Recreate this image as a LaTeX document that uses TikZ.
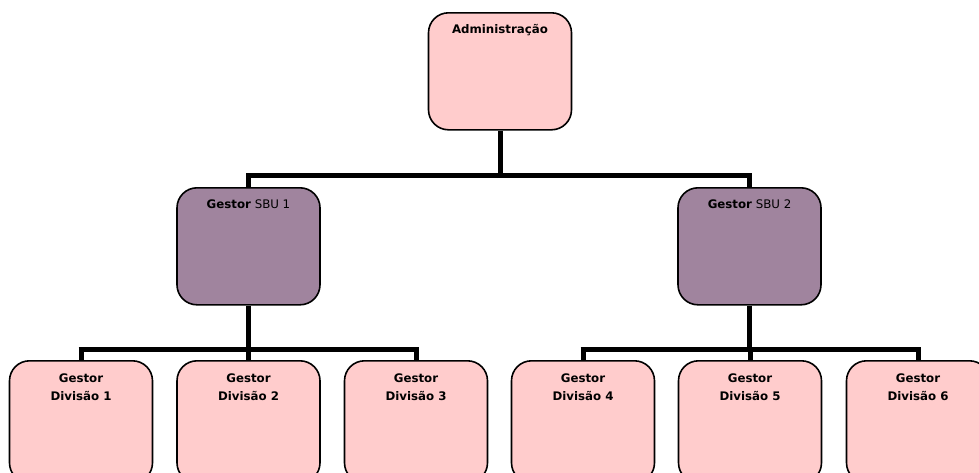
\documentclass[tikz,border=0pt]{standalone}
\usepackage{fontspec}
\setmainfont{DejaVu Sans}
\definecolor{boxpink}{RGB}{255,204,204}
\definecolor{boxpurple}{RGB}{160,132,158}
\begin{document}
\begin{tikzpicture}[x=1pt,y=-1pt,
  unit/.style={draw=black,line width=1.6pt,rounded corners=20pt,
    minimum width=143pt,minimum height=117pt,inner sep=0pt,anchor=north},
  pinkunit/.style={unit,fill=boxpink},
  purpleunit/.style={unit,fill=boxpurple},
  divunit/.style={pinkunit,minimum height=122pt},
  label/.style={font=\fontsize{11.8}{18}\selectfont,anchor=base,align=center,inner sep=0pt},
  link/.style={line width=5pt,line cap=butt}]
\useasboundingbox (0,0) rectangle (979,472);
\clip (0,0) rectangle (979,472);

% junction points of the connector tree
\coordinate (topbar) at (500,175.5);
\coordinate (leftbar) at (248.5,349.5);
\coordinate (rightbar) at (749.5,349.5);

% boxes
\node[pinkunit] (adm) at (500,12) {};
\node[purpleunit] (sbu1) at (248.5,187) {};
\node[purpleunit] (sbu2) at (749.5,187) {};
\node[divunit] (d1) at (81,360) {};
\node[divunit] (d2) at (248.5,360) {};
\node[divunit] (d3) at (416,360) {};
\node[divunit] (d4) at (583,360) {};
\node[divunit] (d5) at (750,360) {};
\node[divunit] (d6) at (918,360) {};

% connector tree between the boxes
\draw[link] (adm.south) -- (topbar);
\draw[link] ([xshift=-2.5pt]topbar -| sbu1.north) -- ([xshift=2.5pt]topbar -| sbu2.north);
\draw[link] (topbar -| sbu1.north) -- (sbu1.north);
\draw[link] (topbar -| sbu2.north) -- (sbu2.north);

\draw[link] (sbu1.south) -- (leftbar);
\draw[link] ([xshift=-2.5pt]leftbar -| d1.north) -- ([xshift=2.5pt]leftbar -| d3.north);
\draw[link] (leftbar -| d1.north) -- (d1.north);
\draw[link] (leftbar -| d2.north) -- (d2.north);
\draw[link] (leftbar -| d3.north) -- (d3.north);

\draw[link] (sbu2.south) -- (rightbar);
\draw[link] ([xshift=-2.5pt]rightbar -| d4.north) -- ([xshift=2.5pt]rightbar -| d6.north);
\draw[link] (rightbar -| d4.north) -- (d4.north);
\draw[link] (rightbar -| d5.north) -- (d5.north);
\draw[link] (rightbar -| d6.north) -- (d6.north);

% texts
\node[label] (tadm) at (500,33) {\textbf{Administração}};
\node[label] (tsbu1) at (248.5,208) {\textbf{Gestor} SBU 1};
\node[label] (tsbu2) at (749.5,208) {\textbf{Gestor} SBU 2};
\node[label] (td1) at (81,400) {\textbf{Gestor}\\\textbf{Divisão 1}};
\node[label] (td2) at (248.5,400) {\textbf{Gestor}\\\textbf{Divisão 2}};
\node[label] (td3) at (416,400) {\textbf{Gestor}\\\textbf{Divisão 3}};
\node[label] (td4) at (583,400) {\textbf{Gestor}\\\textbf{Divisão 4}};
\node[label] (td5) at (750,400) {\textbf{Gestor}\\\textbf{Divisão 5}};
\node[label] (td6) at (918,400) {\textbf{Gestor}\\\textbf{Divisão 6}};
\end{tikzpicture}
\end{document}
